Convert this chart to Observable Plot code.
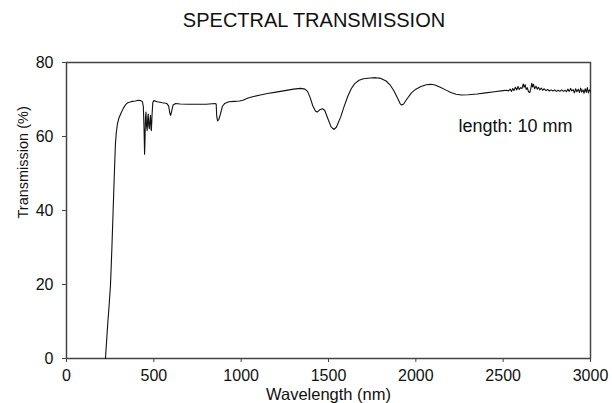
<!DOCTYPE html>
<html>
<head>
<meta charset="utf-8">
<script src="https://cdn.jsdelivr.net/npm/d3@7"></script>
<script src="https://cdn.jsdelivr.net/npm/@observablehq/plot@0.6"></script>
<style>
  html, body { margin: 0; padding: 0; background: #fff; }
  body { width: 612px; height: 403px; overflow: hidden; font-family: "Liberation Sans", Arial, sans-serif; }
  #title { height: 40px; line-height: 40px; text-align: center; font-size: 20px; color: #111; padding-left: 16px; box-sizing: border-box; }
</style>
</head>
<body>
<div id="title">SPECTRAL TRANSMISSION</div>
<div id="chart"></div>
<script>
const wavelength = [
  223, 230, 237, 245, 252, 260, 267, 274, 280, 285, 292, 300, 312, 325, 338, 350, 365, 376, 395, 410,
  425, 435, 440, 444, 447, 449, 452, 455, 458, 462, 465, 468, 471, 474, 478, 481, 484, 486, 490, 494,
  500, 520, 550, 575, 585, 592, 596, 602, 610, 625, 650, 700, 750, 800, 850, 857, 860, 865, 872, 882,
  892, 905, 930, 960, 990, 1010, 1040, 1070, 1110, 1150, 1200, 1250, 1300, 1340, 1365, 1380, 1395, 1410, 1425, 1435,
  1450, 1465, 1478, 1495, 1515, 1530, 1545, 1570, 1590, 1610, 1630, 1650, 1675, 1700, 1740, 1770, 1800, 1830, 1855, 1875,
  1895, 1910, 1918, 1930, 1950, 1975, 2000, 2030, 2060, 2085, 2110, 2140, 2170, 2200, 2230, 2260, 2300, 2350, 2400, 2450,
  2500, 2520, 2530, 2540, 2548, 2555, 2562, 2570, 2578, 2585, 2592, 2600, 2608, 2615, 2620, 2626, 2632, 2638, 2645, 2652,
  2658, 2664, 2668, 2674, 2680, 2688, 2695, 2702, 2710, 2718, 2726, 2735, 2745, 2755, 2765, 2775, 2785, 2795, 2805, 2815,
  2825, 2835, 2845, 2855, 2862, 2870, 2878, 2886, 2893, 2900, 2908, 2915, 2922, 2930, 2937, 2944, 2950, 2957, 2963, 2970,
  2976, 2982, 2988, 2994, 3000
];
const transmission = [
  0, 5, 10, 15, 20, 30, 40, 50, 58, 61, 63.5, 65, 66.3, 67.6, 68.6, 69.1, 69.3, 69.5, 69.6, 69.8,
  69.7, 69.4, 68, 62, 55.2, 58, 65, 66.6, 63, 61.6, 65, 66.1, 63, 62.1, 64.5, 65.7, 62, 61.6, 66, 69.2,
  69.7, 69.4, 69.1, 68.9, 68.2, 66.2, 65.7, 66.8, 68.5, 68.9, 68.8, 68.7, 68.7, 68.7, 68.9, 68.8, 65.5, 64.2, 64.6, 66.2,
  68.1, 68.9, 69.4, 69.5, 69.6, 69.8, 70.4, 70.8, 71.2, 71.6, 72.0, 72.4, 72.8, 73.0, 72.8, 72.2, 70.5, 68.3, 66.9, 66.6,
  67.2, 67.5, 67.1, 65.0, 62.6, 61.9, 62.5, 65.3, 68.2, 70.8, 72.9, 74.3, 75.2, 75.6, 75.8, 75.9, 75.7, 75.0, 73.8, 72.3,
  70.4, 68.9, 68.5, 68.8, 70.2, 71.8, 72.8, 73.5, 74.0, 74.1, 73.9, 73.3, 72.6, 71.9, 71.4, 71.2, 71.3, 71.5, 71.8, 72.1,
  72.4, 72.5, 72.3, 72.8, 72.2, 73.0, 72.4, 73.3, 72.6, 73.5, 72.7, 73.2, 73.0, 74.2, 73.3, 74.0, 72.7, 73.2, 72.1, 71.9,
  72.8, 74.4, 73.4, 74.1, 72.9, 73.6, 72.8, 73.3, 72.6, 73.1, 72.5, 72.9, 72.4, 72.7, 72.3, 72.6, 72.3, 72.6, 72.2, 72.5,
  72.2, 72.6, 72.2, 72.5, 72.1, 72.8, 72.2, 73.0, 72.3, 72.7, 71.8, 72.9, 72.1, 72.8, 71.9, 73.1, 72.0, 72.6, 71.7, 72.9,
  71.9, 73.2, 71.8, 72.6, 72.2
];
const xTicks = [0, 500, 1000, 1500, 2000, 2500, 3000];
const yTicks = [0, 20, 40, 60, 80];
const xLabel = "Wavelength (nm)";
const yLabel = "Transmission (%)";
const noteText = ["length: 10 mm"];
const noteX = [2244];
const noteY = [62.7];

const data = wavelength.map((w, i) => ({w, t: transmission[i]}));
const notes = noteText.map((s, i) => ({s, x: noteX[i], y: noteY[i]}));

const chart = Plot.plot({
  width: 612,
  height: 363,
  marginLeft: 66,
  marginRight: 22,
  marginTop: 22,
  marginBottom: 45,
  style: {fontFamily: "Liberation Sans, Arial, sans-serif", fontSize: "16px", color: "#111", background: "#fff", overflow: "visible"},
  x: {domain: [0, 3000]},
  y: {domain: [0, 80]},
  marks: [
    Plot.axisX({ticks: xTicks, tickSize: 4, tickPadding: 7, tickFormat: d => String(d), label: null, stroke: "#444", fontSize: 16}),
    Plot.axisY({ticks: yTicks, tickSize: 4, tickPadding: 9, tickFormat: d => String(d), label: null, stroke: "#444", fontSize: 16}),
    Plot.frame({stroke: "#444", strokeWidth: 1.5}),
    Plot.line(data, {x: "w", y: "t", stroke: "#111", strokeWidth: 1.1}),
    Plot.text(notes, {x: "x", y: "y", text: "s", textAnchor: "start", fontSize: 18, fill: "#111"}),
    Plot.text([xLabel], {frameAnchor: "bottom", dy: 41.5, fontSize: 16.5, fill: "#111"}),
    Plot.text([yLabel], {frameAnchor: "left", dx: -43, dy: 8, rotate: -90, fontSize: 14.5, fill: "#111"})
  ]
});
document.getElementById("chart").appendChild(chart);
</script>
</body>
</html>
